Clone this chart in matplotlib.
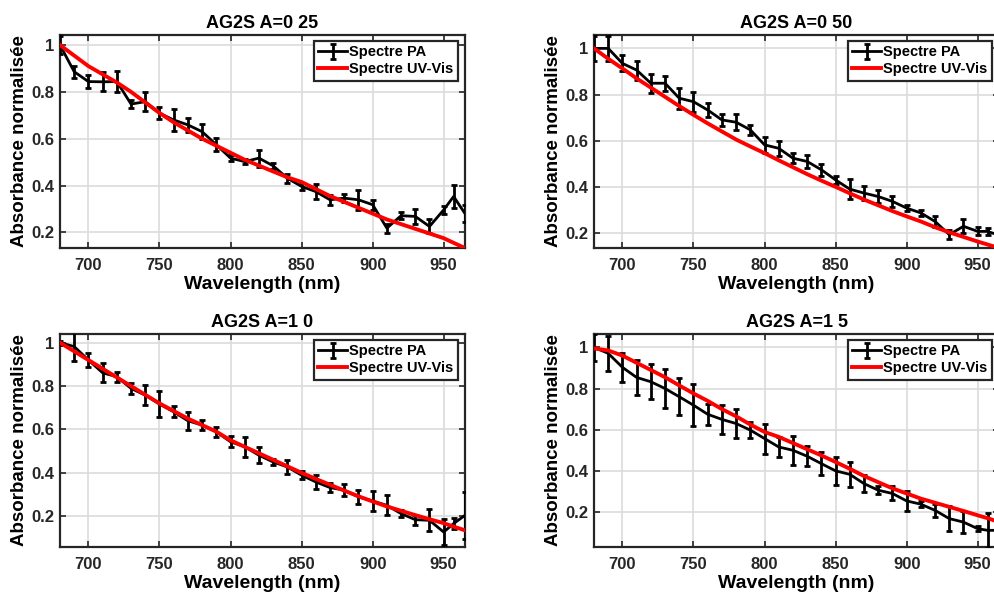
#!/usr/bin/env python
# Normalised absorbance: photoacoustic spectrum vs UV-Vis spectrum
# for four AG2S samples (2x2 grid).

from matplotlib import pyplot as plt
from matplotlib.ticker import FixedLocator, FixedFormatter
import matplotlib

matplotlib.rcParams.update({'font.family': 'Liberation Sans',
                            'font.weight': 'bold',
                            'font.size': 12})

wavelength = [680, 690, 700, 710, 720, 730, 740, 750, 760, 770,
              780, 790, 800, 810, 820, 830, 840, 850, 860, 870,
              880, 890, 900, 910, 920, 930, 940, 950, 957, 965]

titles = ['AG2S A=0 25', 'AG2S A=0 50', 'AG2S A=1 0', 'AG2S A=1 5']

# Spectre PA (black, with error bars)
pa_025 = [1.0, 0.886, 0.844, 0.843, 0.844, 0.748, 0.758, 0.709, 0.68, 0.659,
          0.63, 0.574, 0.517, 0.502, 0.517, 0.484, 0.431, 0.396, 0.374, 0.339,
          0.346, 0.339, 0.318, 0.218, 0.271, 0.268, 0.225, 0.296, 0.353, 0.28]
err_025 = [0.039, 0.025, 0.026, 0.041, 0.044, 0.016, 0.04, 0.027, 0.048, 0.031,
           0.032, 0.027, 0.014, 0.01, 0.036, 0.014, 0.019, 0.014, 0.032, 0.021,
           0.018, 0.043, 0.021, 0.019, 0.014, 0.032, 0.03, 0.018, 0.05, 0.036]

pa_050 = [1.0, 1.0, 0.935, 0.906, 0.849, 0.849, 0.784, 0.769, 0.733, 0.69,
          0.68, 0.647, 0.582, 0.567, 0.524, 0.51, 0.474, 0.43, 0.39, 0.373,
          0.358, 0.337, 0.308, 0.287, 0.25, 0.193, 0.229, 0.207, 0.207, 0.19]
err_050 = [0.054, 0.053, 0.035, 0.041, 0.041, 0.032, 0.045, 0.043, 0.031, 0.025,
           0.035, 0.023, 0.035, 0.032, 0.022, 0.029, 0.025, 0.016, 0.042, 0.03,
           0.029, 0.025, 0.014, 0.014, 0.022, 0.018, 0.031, 0.017, 0.014, 0.014]

pa_10 = [1.0, 0.982, 0.92, 0.861, 0.843, 0.789, 0.758, 0.717, 0.681, 0.64,
         0.62, 0.589, 0.543, 0.52, 0.481, 0.45, 0.427, 0.389, 0.358, 0.332,
         0.32, 0.289, 0.27, 0.25, 0.212, 0.184, 0.181, 0.127, 0.166, 0.204]
err_10 = [0.01, 0.065, 0.032, 0.044, 0.023, 0.026, 0.046, 0.058, 0.025, 0.042,
          0.022, 0.022, 0.025, 0.046, 0.037, 0.015, 0.031, 0.018, 0.033, 0.022,
          0.027, 0.034, 0.044, 0.046, 0.015, 0.023, 0.05, 0.062, 0.027, 0.108]

pa_15 = [1.0, 0.971, 0.903, 0.854, 0.833, 0.80, 0.76, 0.719, 0.675, 0.65,
         0.63, 0.598, 0.557, 0.516, 0.50, 0.471, 0.435, 0.40, 0.383, 0.338,
         0.306, 0.29, 0.254, 0.238, 0.208, 0.168, 0.151, 0.119, 0.111, 0.111]
err_15 = [0.065, 0.085, 0.069, 0.085, 0.084, 0.097, 0.089, 0.103, 0.05, 0.069,
          0.071, 0.039, 0.073, 0.049, 0.07, 0.049, 0.055, 0.067, 0.062, 0.041,
          0.019, 0.034, 0.05, 0.014, 0.032, 0.061, 0.053, 0.012, 0.085, 0.02]

# Spectre UV-Vis (red)
uv_025 = [1.0, 0.955, 0.91, 0.875, 0.84, 0.80, 0.755, 0.71, 0.67, 0.635,
          0.60, 0.57, 0.54, 0.51, 0.485, 0.46, 0.435, 0.415, 0.385, 0.355,
          0.33, 0.305, 0.28, 0.255, 0.235, 0.215, 0.195, 0.175, 0.155, 0.133]
uv_050 = [1.0, 0.955, 0.913, 0.87, 0.83, 0.79, 0.75, 0.712, 0.675, 0.64,
          0.605, 0.575, 0.546, 0.515, 0.485, 0.455, 0.427, 0.40, 0.372, 0.345,
          0.32, 0.295, 0.272, 0.25, 0.225, 0.203, 0.183, 0.163, 0.15, 0.135]
uv_10 = [1.0, 0.96, 0.92, 0.88, 0.84, 0.80, 0.76, 0.72, 0.685, 0.65,
         0.62, 0.59, 0.55, 0.52, 0.49, 0.46, 0.43, 0.40, 0.372, 0.345,
         0.318, 0.292, 0.268, 0.245, 0.225, 0.205, 0.186, 0.168, 0.152, 0.135]
uv_15 = [0.995, 0.985, 0.96, 0.925, 0.89, 0.855, 0.815, 0.776, 0.74, 0.70,
         0.665, 0.625, 0.589, 0.565, 0.535, 0.505, 0.475, 0.443, 0.41, 0.375,
         0.345, 0.315, 0.29, 0.265, 0.245, 0.225, 0.205, 0.184, 0.17, 0.151]

pa_all = [pa_025, pa_050, pa_10, pa_15]
err_all = [err_025, err_050, err_10, err_15]
uv_all = [uv_025, uv_050, uv_10, uv_15]
ylims = [(0.133, 1.043), (0.135, 1.058), (0.058, 1.04), (0.03, 1.065)]

# axes boxes in pixels: left, top (figure is 995x598)
W, H = 995., 598.
boxes = [(60, 35), (594, 35), (60, 334), (594, 334)]
aw, ah = 405, 213

fig = plt.figure(figsize=(9.95, 5.98), dpi=100)

for i in range(4):
    left, top = boxes[i]
    ax = fig.add_axes([left / W, (H - top - ah) / H, aw / W, ah / H])

    pa = ax.errorbar(wavelength, pa_all[i], yerr=err_all[i], color='k', lw=2,
                     elinewidth=2, capsize=2.5, capthick=2, zorder=3)
    uv, = ax.plot(wavelength, uv_all[i], color='#ff0000', lw=2.8, zorder=4)

    ax.set_xlim(680, 965)
    ax.set_ylim(*ylims[i])
    ax.xaxis.set_major_locator(FixedLocator([700, 750, 800, 850, 900, 950]))
    ax.yaxis.set_major_locator(FixedLocator([0.2, 0.4, 0.6, 0.8, 1.0]))
    ax.yaxis.set_major_formatter(FixedFormatter(['0.2', '0.4', '0.6', '0.8', '1']))

    ax.grid(True, color='#dcdcdc', lw=1.2)
    ax.set_axisbelow(True)
    for s in ax.spines.values():
        s.set_linewidth(1.6)
        s.set_color('#262626')
    ax.tick_params(direction='in', length=4, width=1.2, top=True, right=True,
                   colors='#262626', labelsize=12)
    ax.tick_params(axis='x', pad=7.5)
    ax.tick_params(axis='y', pad=4)

    ax.set_title(titles[i], fontsize=13, fontweight='bold', pad=5)
    ax.set_xlabel('Wavelength (nm)', fontsize=14, fontweight='bold', labelpad=2)
    ax.set_ylabel('Absorbance normalisée', fontsize=13.5, fontweight='bold', labelpad=2.5)

    leg = ax.legend([pa, uv], ['Spectre PA', 'Spectre UV-Vis'],
                    loc='upper right', bbox_to_anchor=(0.983, 0.972),
                    borderaxespad=0, fancybox=False, framealpha=1,
                    edgecolor='#262626', prop={'weight': 'bold', 'size': 10.5},
                    handlelength=2.0, handletextpad=0.15, borderpad=0.3,
                    labelspacing=0.2)
    leg.get_frame().set_linewidth(1.6)

plt.savefig('out.png', dpi=100)
